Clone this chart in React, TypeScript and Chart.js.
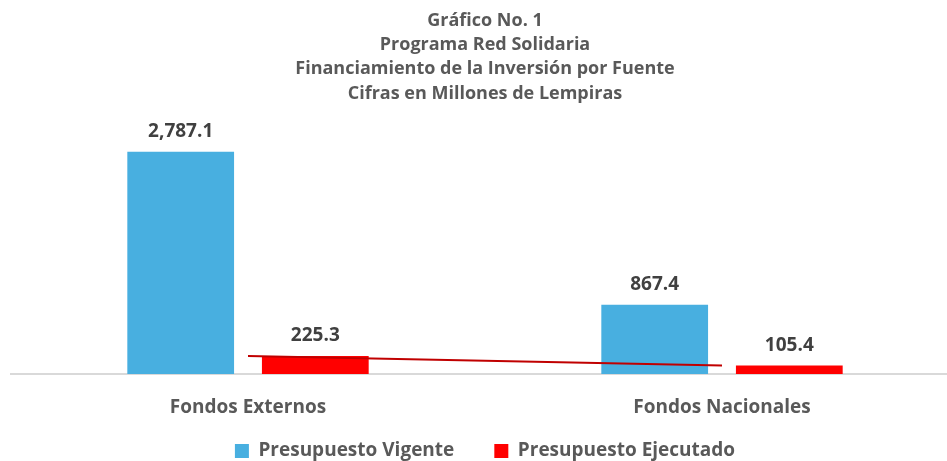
import React, { useEffect, useRef } from "react";
import { Chart, registerables } from "chart.js";

Chart.register(...registerables);

const categories = ["Fondos Externos", "Fondos Nacionales"];
const vigente = [2787.1, 867.4];
const ejecutado = [225.3, 105.4];
const titleLines = [
  "Gráfico No. 1",
  "Programa Red Solidaria",
  "Financiamiento de la Inversión por Fuente",
  "Cifras en Millones de Lempiras",
];
const seriesNames = ["Presupuesto Vigente", "Presupuesto Ejecutado"];

const FONT = "'Open Sans', sans-serif";

const valueLabels = {
  id: "valueLabels",
  afterDatasetsDraw(chart: any) {
    const ctx = chart.ctx;
    ctx.save();
    ctx.font = `bold 19px ${FONT}`;
    ctx.fillStyle = "#404040";
    ctx.textAlign = "center";
    ctx.textBaseline = "middle";
    [0, 1].forEach((di) => {
      const meta = chart.getDatasetMeta(di);
      const data = chart.data.datasets[di].data as number[];
      meta.data.forEach((el: any, i: number) => {
        const txt = data[i].toLocaleString("en-US", {
          minimumFractionDigits: 1,
          maximumFractionDigits: 1,
        });
        ctx.fillText(txt, el.x, el.y - 20);
      });
    });
    ctx.restore();
  },
};

const expandClip = {
  id: "expandClip",
  afterLayout(chart: any) {
    chart.scales.x.bottom = chart.height;
    if (chart.legend) {
      chart.legend.bottom = chart.height;
      chart.legend.height = chart.legend.bottom - chart.legend.top;
    }
  },
};

export default function App() {
  const ref = useRef<HTMLCanvasElement>(null);
  useEffect(() => {
    if (!ref.current) return;
    const chart = new Chart(ref.current, {
      type: "bar",
      data: {
        labels: categories,
        datasets: [
          {
            type: "bar",
            label: seriesNames[0],
            data: vigente,
            backgroundColor: "#48AFE0",
            categoryPercentage: 0.568,
            barPercentage: 0.793,
            order: 2,
          },
          {
            type: "bar",
            label: seriesNames[1],
            data: ejecutado,
            backgroundColor: "#FF0000",
            categoryPercentage: 0.568,
            barPercentage: 0.793,
            order: 2,
          },
          {
            type: "line",
            label: "trend",
            data: ejecutado,
            borderColor: "#C00000",
            borderWidth: 2,
            pointRadius: 0,
            fill: false,
            order: 1,
          } as any,
        ],
      },
      options: {
        animation: false,
        responsive: false,
        maintainAspectRatio: false,
        layout: { padding: { left: 11, right: 3, top: 0, bottom: 19.5 } },
        scales: {
          x: {
            grid: { display: false, drawTicks: false },
            border: { color: "#D9D9D9", width: 2 },
            ticks: {
              color: "#595959",
              font: { family: FONT, size: 19, weight: "bold" },
              padding: 22,
            },
            afterFit: (scale: any) => {
              scale.height = 27.5;
            },
          },
          y: {
            display: false,
            min: 0,
            max: 3365,
          },
        },
        plugins: {
          title: {
            display: true,
            text: titleLines,
            color: "#595959",
            font: { family: FONT, size: 18, weight: "bold", lineHeight: 1.35 },
            padding: { top: 8.5, bottom: 0 },
          },
          legend: {
            position: "bottom",
            maxHeight: 40,
            labels: {
              color: "#595959",
              font: { family: FONT, size: 19, weight: "bold" },
              boxWidth: 14,
              boxHeight: 14,
              padding: 40,
              filter: (item: any) => item.datasetIndex < 2,
            },
          },
          tooltip: { enabled: false },
        },
      },
      plugins: [valueLabels, expandClip],
    });
    return () => chart.destroy();
  }, []);
  return (
    <div style={{ position: "fixed", left: 0, top: 0, width: 962, height: 461, background: "#fff" }}>
      <canvas ref={ref} width={962} height={461} style={{ width: 962, height: 461 }} />
    </div>
  );
}
